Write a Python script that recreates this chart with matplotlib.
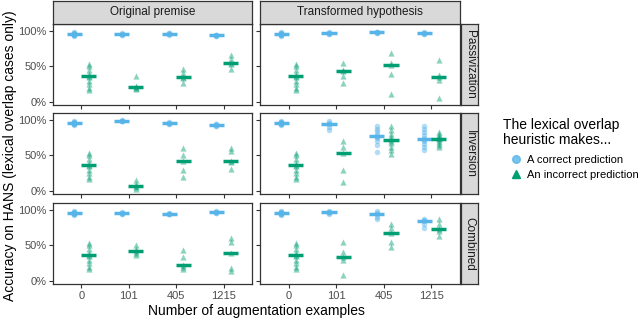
import matplotlib
matplotlib.use("Agg")
import matplotlib.pyplot as plt
import numpy as np
from matplotlib.lines import Line2D

plt.rcParams['font.family'] = ['Liberation Sans', 'DejaVu Sans']

x_labels = ["0", "101", "405", "1215"]
columns = ["Original premise", "Transformed hypothesis"]
rows = ["Passivization", "Inversion", "Combined"]

# baseline (0 augmentation examples) shared by every panel
base_correct = [0.98, 0.97, 0.97, 0.96, 0.96, 0.96, 0.95, 0.95, 0.94, 0.93]
base_incorrect = [0.53, 0.50, 0.45, 0.40, 0.37, 0.35, 0.30, 0.25, 0.20, 0.16]

# Passivization / Original premise
pas_orig_correct = [base_correct, [0.97, 0.96, 0.96, 0.95, 0.95], [0.97, 0.97, 0.96, 0.96, 0.95], [0.95, 0.94, 0.94, 0.93, 0.93]]
pas_orig_incorrect = [base_incorrect, [0.37, 0.22, 0.21, 0.20, 0.18], [0.46, 0.41, 0.35, 0.33, 0.27], [0.66, 0.60, 0.55, 0.53, 0.46]]
# Passivization / Transformed hypothesis
pas_tran_correct = [base_correct, [0.98, 0.97, 0.97, 0.96, 0.96], [0.99, 0.98, 0.98, 0.97, 0.97], [0.98, 0.97, 0.97, 0.96, 0.96]]
pas_tran_incorrect = [base_incorrect, [0.55, 0.45, 0.43, 0.36, 0.27], [0.69, 0.55, 0.52, 0.39, 0.11], [0.59, 0.38, 0.35, 0.31, 0.05]]
# Inversion / Original premise
inv_orig_correct = [base_correct, [1.00, 0.99, 0.99, 0.98, 0.98], [0.97, 0.96, 0.96, 0.95, 0.95], [0.95, 0.94, 0.93, 0.92, 0.91]]
inv_orig_incorrect = [base_incorrect, [0.15, 0.10, 0.07, 0.06, 0.03], [0.60, 0.50, 0.42, 0.30, 0.19], [0.61, 0.56, 0.42, 0.41, 0.31]]
# Inversion / Transformed hypothesis
inv_tran_correct = [base_correct, [0.98, 0.96, 0.94, 0.90, 0.86],
                    [0.92, 0.88, 0.84, 0.80, 0.78, 0.76, 0.74, 0.70, 0.65, 0.55],
                    [0.92, 0.88, 0.83, 0.79, 0.75, 0.72, 0.70, 0.66, 0.62, 0.57]]
inv_tran_incorrect = [base_incorrect, [0.70, 0.62, 0.53, 0.30, 0.13],
                      [0.92, 0.86, 0.80, 0.76, 0.73, 0.71, 0.67, 0.62, 0.57, 0.52],
                      [0.83, 0.80, 0.77, 0.75, 0.74, 0.73, 0.71, 0.68, 0.65, 0.62]]
# Combined / Original premise
com_orig_correct = [base_correct, [0.97, 0.96, 0.96, 0.95, 0.95], [0.96, 0.95, 0.95, 0.94, 0.94], [0.98, 0.97, 0.97, 0.96, 0.96]]
com_orig_incorrect = [base_incorrect, [0.50, 0.45, 0.42, 0.40, 0.37], [0.43, 0.33, 0.22, 0.20, 0.16], [0.61, 0.55, 0.40, 0.18, 0.14]]
# Combined / Transformed hypothesis
com_tran_correct = [base_correct, [0.98, 0.97, 0.97, 0.96, 0.95], [0.98, 0.96, 0.94, 0.90, 0.87], [0.88, 0.86, 0.85, 0.80, 0.75]]
com_tran_incorrect = [base_incorrect, [0.55, 0.41, 0.33, 0.30, 0.08], [0.81, 0.74, 0.67, 0.55, 0.48], [0.88, 0.80, 0.73, 0.70, 0.63]]

data = {
    ("Passivization", "Original premise"): (pas_orig_correct, pas_orig_incorrect),
    ("Passivization", "Transformed hypothesis"): (pas_tran_correct, pas_tran_incorrect),
    ("Inversion", "Original premise"): (inv_orig_correct, inv_orig_incorrect),
    ("Inversion", "Transformed hypothesis"): (inv_tran_correct, inv_tran_incorrect),
    ("Combined", "Original premise"): (com_orig_correct, com_orig_incorrect),
    ("Combined", "Transformed hypothesis"): (com_tran_correct, com_tran_incorrect),
}

BLUE = "#56B4E9"
GREEN = "#009E73"
W, H = 640, 321
fig = plt.figure(figsize=(W / 100, H / 100), dpi=100)

col_x = [(53, 252), (260, 460)]
row_y = [(24, 105), (113, 194), (203, 284)]
strip_top = 1
strip_right = (461, 478)

def fx(p):
    return p / W

def fy(p):
    return 1 - p / H

dodge = 0.15
half = 0.16
for ri, rname in enumerate(rows):
    for ci, cname in enumerate(columns):
        x0, x1 = col_x[ci]
        y0, y1 = row_y[ri]
        ax = fig.add_axes([fx(x0), fy(y1), fx(x1 - x0), (y1 - y0) / H])
        corr, inc = data[(rname, cname)]
        for i in range(len(x_labels)):
            xc = i + 1
            ax.scatter([xc - dodge] * len(corr[i]), corr[i], s=16, marker='o', color=BLUE,
                       alpha=0.45, linewidths=0, zorder=2)
            ax.scatter([xc + dodge] * len(inc[i]), inc[i], s=20, marker='^', color=GREEN,
                       alpha=0.45, linewidths=0, zorder=2)
            mc = np.median(corr[i])
            mi = np.median(inc[i])
            ax.plot([xc - dodge - half, xc - dodge + half], [mc, mc], color=BLUE, lw=2.5,
                    solid_capstyle='butt', zorder=3)
            ax.plot([xc + dodge - half, xc + dodge + half], [mi, mi], color=GREEN, lw=2.5,
                    solid_capstyle='butt', zorder=3)
        ax.set_xlim(0.4, 4.6)
        ax.set_ylim(-0.045, 1.10)
        ax.set_yticks([0, 0.5, 1.0])
        ax.set_xticks([1, 2, 3, 4])
        for s in ax.spines.values():
            s.set_color("#333333")
            s.set_linewidth(0.9)
        ax.tick_params(axis='both', length=2.8, width=0.8, color="#333333",
                       labelsize=8, labelcolor="#4D4D4D", pad=2)
        if ci == 0:
            ax.set_yticklabels(["0%", "50%", "100%"])
        else:
            ax.set_yticklabels([])
        if ri == 2:
            ax.set_xticklabels(x_labels)
        else:
            ax.set_xticklabels([])
        # top strips
        if ri == 0:
            sax = fig.add_axes([fx(x0), fy(y0), fx(x1 - x0), (y0 - strip_top) / H])
            sax.set_xticks([]); sax.set_yticks([])
            sax.set_facecolor("#D9D9D9")
            for s in sax.spines.values():
                s.set_color("#333333"); s.set_linewidth(0.9)
            sax.text(0.5, 0.5, cname, ha='center', va='center', fontsize=8.5,
                     color="#1A1A1A", transform=sax.transAxes)
        # right strips
        if ci == 1:
            sx0, sx1 = strip_right
            sax = fig.add_axes([fx(sx0), fy(y1), fx(sx1 - sx0), (y1 - y0) / H])
            sax.set_xticks([]); sax.set_yticks([])
            sax.set_facecolor("#D9D9D9")
            for s in sax.spines.values():
                s.set_color("#333333"); s.set_linewidth(0.9)
            sax.text(0.5, 0.5, rname, ha='center', va='center', fontsize=8.5,
                     rotation=-90, color="#1A1A1A", transform=sax.transAxes)

fig.text(fx(256), fy(311), "Number of augmentation examples", ha='center', va='center',
         fontsize=10, color="black")
fig.text(fx(10), fy(156), "Accuracy on HANS (lexical overlap cases only)", ha='center',
         va='center', rotation=90, fontsize=10, color="black")

# legend
fig.text(fx(503), fy(132.5), "The lexical overlap\nheuristic makes...", ha='left', va='center',
         fontsize=10, linespacing=1.1)
handles = [
    Line2D([], [], marker='o', color=BLUE, linestyle='none', markersize=5.5, alpha=0.8),
    Line2D([], [], marker='^', color=GREEN, linestyle='none', markersize=6),
]
fig.legend(handles, ["A correct prediction", "An incorrect prediction"],
           loc='upper left', bbox_to_anchor=(fx(509), fy(155)), frameon=False,
           fontsize=8, handletextpad=0.4, labelspacing=0.45, borderpad=0,
           handlelength=1.2, borderaxespad=0)

fig.savefig("out.png", dpi=100)
